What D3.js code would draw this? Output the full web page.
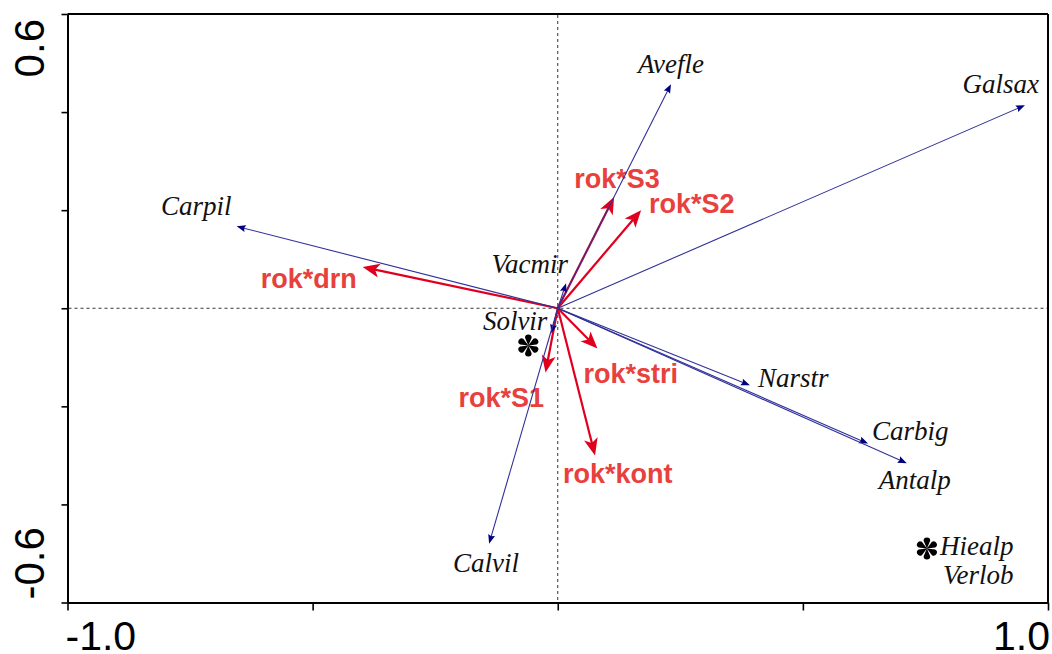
<!DOCTYPE html>
<html>
<head>
<meta charset="utf-8">
<script src="https://cdn.jsdelivr.net/npm/d3@7"></script>
<style>
  body { margin: 0; background: #fff; }
  svg { display: block; }
</style>
</head>
<body>
<svg id="chart" width="1052" height="654"></svg>
<script>
// Ordination biplot: species arrows (blue) and environmental interaction terms (red)

// Species scores (axis 1, axis 2)
const speciesNames = ["Avefle", "Galsax", "Carpil", "Vacmir", "Solvir", "Narstr", "Carbig", "Antalp", "Calvil"];
const speciesX = [0.231, 0.953, -0.655, 0.017, -0.013, 0.392, 0.633, 0.712, -0.140];
const speciesY = [0.457, 0.414, 0.167, 0.051, -0.051, -0.157, -0.276, -0.316, -0.480];

// Explanatory variables
const envNames = ["rok*S3", "rok*S2", "rok*drn", "rok*stri", "rok*S1", "rok*kont"];
const envX = [0.115, 0.170, -0.398, 0.081, -0.025, 0.076];
const envY = [0.227, 0.200, 0.084, -0.082, -0.131, -0.300];

// Species shown as points
const pointX = [-0.060, 0.753];
const pointY = [-0.076, -0.490];
const pointLabels = [[], ["Hiealp", "Verlob"]];

// Axis ticks
const xTicks = [-1.0, -0.5, 0, 0.5, 1.0];
const yTicks = [-0.6, -0.4, -0.2, 0, 0.2, 0.4, 0.6];
const xTickLabels = ["-1.0", "1.0"];
const yTickLabels = ["-0.6", "0.6"];

// Label placement (pixel offsets from the arrow tip, text anchor)
const speciesLabelPos = {
  Avefle: [0, -11, "middle"],
  Galsax: [14, -12, "end"],
  Carpil: [-5, -11, "end"],
  Vacmir: [2, -10, "end"],
  Solvir: [-4, -3, "end"],
  Narstr: [8, 2, "start"],
  Carbig: [4, -4, "start"],
  Antalp: [-28, 26, "start"],
  Calvil: [-36, 28, "start"]
};
const envLabelPos = {
  "rok*S3": [-40, -9],
  "rok*S2": [8, 3],
  "rok*drn": [-102, 21],
  "rok*stri": [-14, 35],
  "rok*S1": [-87, 35],
  "rok*kont": [-32, 28]
};

const svg = d3.select("#chart");
const plotL = 67.5, plotR = 1048, plotT = 14, plotB = 602.5;

const x = d3.scaleLinear().domain([-1, 1]).range([plotL, plotR]);
const y = d3.scaleLinear().domain([-0.6, 0.6]).range([plotB, plotT]);

// Frame
svg.append("line").attr("x1", plotL).attr("x2", plotR).attr("y1", plotT).attr("y2", plotT)
  .attr("stroke", "#000").attr("stroke-width", 2);
svg.append("line").attr("x1", plotR).attr("x2", plotR).attr("y1", plotT).attr("y2", plotB)
  .attr("stroke", "#000").attr("stroke-width", 2);

// Axes
const xAxis = svg.append("g").attr("transform", `translate(0,${plotB})`)
  .call(d3.axisBottom(x).tickValues(xTicks).tickSizeInner(8).tickSizeOuter(0).tickFormat(""));
const yAxis = svg.append("g").attr("transform", `translate(${plotL},0)`)
  .call(d3.axisLeft(y).tickValues(yTicks).tickSizeInner(6).tickSizeOuter(0).tickFormat(""));
[xAxis, yAxis].forEach(g => {
  g.select(".domain").attr("stroke", "#000").attr("stroke-width", 2);
  g.selectAll(".tick line").attr("stroke", "#000").attr("stroke-width", 1.6);
});

// Tick labels at the ends of each axis
const tickFont = "'Liberation Sans', Arial, sans-serif";
svg.append("text").attr("x", x(-1) - 2).attr("y", 650)
  .attr("text-anchor", "start").attr("font-family", tickFont).attr("font-size", 41)
  .text(xTickLabels[0]);
svg.append("text").attr("x", x(1) + 2).attr("y", 650)
  .attr("text-anchor", "end").attr("font-family", tickFont).attr("font-size", 41)
  .text(xTickLabels[1]);
svg.append("text").attr("transform", `translate(44,${y(-0.6) - 3}) rotate(-90)`)
  .attr("text-anchor", "start").attr("font-family", tickFont).attr("font-size", 42)
  .text(yTickLabels[0]);
svg.append("text").attr("transform", `translate(44,${y(0.6) + 5}) rotate(-90)`)
  .attr("text-anchor", "end").attr("font-family", tickFont).attr("font-size", 42)
  .text(yTickLabels[1]);

// Zero reference lines
svg.append("line").attr("x1", x(0)).attr("x2", x(0)).attr("y1", plotT + 1).attr("y2", plotB - 1)
  .attr("stroke", "#333").attr("stroke-width", 1).attr("stroke-dasharray", "3,3");
svg.append("line").attr("x1", plotL + 1).attr("x2", plotR - 1).attr("y1", y(0)).attr("y2", y(0))
  .attr("stroke", "#333").attr("stroke-width", 1).attr("stroke-dasharray", "3,3");

// Arrow helper: returns shaft end and head polygon
function arrowGeom(x0, y0, x1, y1, len, half, notch) {
  const dx = x1 - x0, dy = y1 - y0;
  const d = Math.hypot(dx, dy) || 1;
  const ux = dx / d, uy = dy / d, nx = -uy, ny = ux;
  const bx = x1 - ux * len, by = y1 - uy * len;
  const mx = x1 - ux * len * notch, my = y1 - uy * len * notch;
  const head = `M${x1},${y1}L${bx + nx * half},${by + ny * half}L${mx},${my}L${bx - nx * half},${by - ny * half}Z`;
  return { sx: x1 - ux * len * 0.6, sy: y1 - uy * len * 0.6, head };
}

const ox = x(0), oy = y(0);

// Environmental arrows (red)
const envG = svg.append("g");
envNames.forEach((name, i) => {
  const tx = x(envX[i]), ty = y(envY[i]);
  const g = arrowGeom(ox, oy, tx, ty, 17, 7, 0.75);
  envG.append("line").attr("x1", ox).attr("y1", oy).attr("x2", g.sx).attr("y2", g.sy)
    .attr("stroke", "#e0001e").attr("stroke-width", 2.2);
  envG.append("path").attr("d", g.head).attr("fill", "#e0001e");
  const p = envLabelPos[name];
  envG.append("text").attr("x", tx + p[0]).attr("y", ty + p[1])
    .attr("font-family", tickFont).attr("font-weight", "bold").attr("font-size", 27)
    .attr("fill", "#e8403c").text(name);
});

// Species arrows (blue)
const spG = svg.append("g");
const serif = "'Liberation Serif', 'Times New Roman', serif";
speciesNames.forEach((name, i) => {
  const tx = x(speciesX[i]), ty = y(speciesY[i]);
  const g = arrowGeom(ox, oy, tx, ty, 9, 3.5, 0.85);
  spG.append("line").attr("x1", ox).attr("y1", oy).attr("x2", g.sx).attr("y2", g.sy)
    .attr("stroke", "#30309a").attr("stroke-width", 1.1);
  spG.append("path").attr("d", g.head).attr("fill", "#000080");
  const p = speciesLabelPos[name];
  spG.append("text").attr("x", tx + p[0]).attr("y", ty + p[1]).attr("text-anchor", p[2])
    .attr("font-family", serif).attr("font-style", "italic").attr("font-size", 27)
    .attr("fill", "#111").text(name);
});

// Six-petal asterisk marker
function asteriskPath(r, w) {
  const p = d3.path();
  for (let k = 0; k < 6; k++) {
    const a = Math.PI / 2 + k * Math.PI / 3;
    const ca = Math.cos(a), sa = Math.sin(a);
    const rot = (px, py) => [px * ca - py * sa, px * sa + py * ca];
    const p1 = rot(r - w, -w);
    p.moveTo(0, 0);
    p.lineTo(p1[0], p1[1]);
    p.arc(...rot(r - w, 0), w, a - Math.PI / 2, a + Math.PI / 2);
    p.lineTo(0, 0);
    p.closePath();
  }
  return p.toString();
}

// Species plotted as points
pointX.forEach((px, i) => {
  const cx = x(px), cy = y(pointY[i]);
  svg.append("path").attr("transform", `translate(${cx},${cy})`)
    .attr("d", asteriskPath(11, 3.3)).attr("fill", "#000");
  pointLabels[i].forEach((lab, j) => {
    svg.append("text").attr("x", cx + 13 + j * 3).attr("y", cy + 6 + j * 29)
      .attr("font-family", serif).attr("font-style", "italic").attr("font-size", 27)
      .attr("fill", "#111").text(lab);
  });
});
</script>
</body>
</html>
